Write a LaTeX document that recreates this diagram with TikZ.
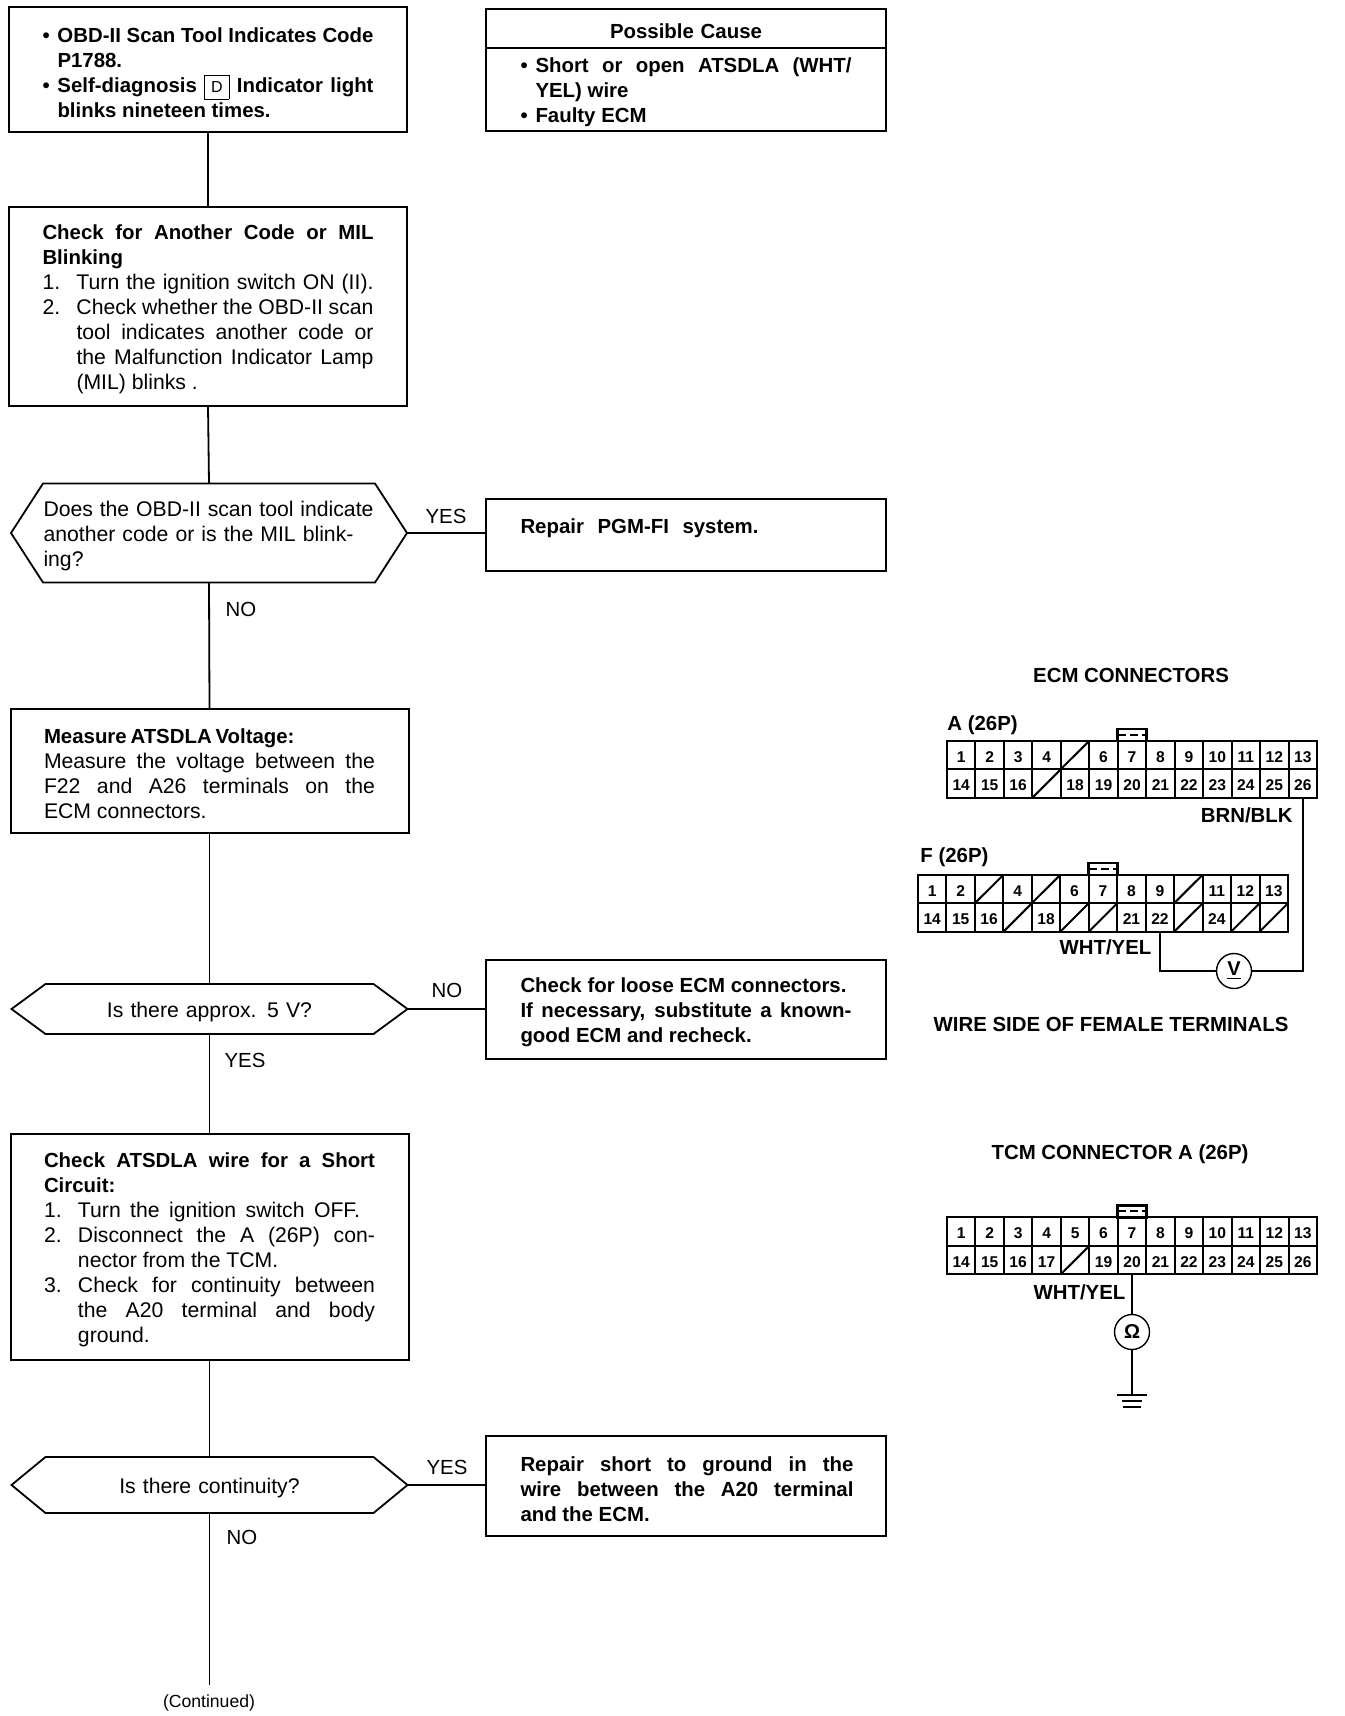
\documentclass[tikz,border=0pt]{standalone}
\usepackage{fontspec}
\setmainfont{Liberation Sans}
\usetikzlibrary{positioning}
\newcommand{\flowfont}{\fontsize{10.6}{12.5}\selectfont}
\newcommand{\flowbold}{\fontsize{10.2}{12.5}\selectfont\bfseries}
\newcommand{\fit}[2]{\makebox[#1pt][s]{#2}}
\newcommand{\numitem}[2]{\makebox[17pt][l]{#1}#2}
\newcommand{\bulitem}[1]{\makebox[7.5pt][l]{\textbullet}#1}
\newcommand{\hexoutline}[2]{%
	\draw[line width=0.9pt] (#1.west) -- ([xshift=#2]#1.north west) -- ([xshift=-#2]#1.north east) -- (#1.east) -- ([xshift=-#2]#1.south east) -- ([xshift=#2]#1.south west) -- cycle;
}
\newcommand{\pinrow}[4]{%
	\foreach \lbl [count=\i] in {#4} {
		\def\slashmark{/}
		\ifx\lbl\slashmark
			\node[pincell] (#1-#2-\i) at ({#3+(\i-0.5)*28.46},\pinY) {};
			\draw[line width=1pt] (#1-#2-\i.south west) -- (#1-#2-\i.north east);
		\else
			\node[pincell] (#1-#2-\i) at ({#3+(\i-0.5)*28.46},\pinY) {\raisebox{-3.6pt}[0pt][0pt]{\lbl}};
		\fi
	}
}
\tikzset{
	flowbox/.style={draw,line width=1pt,outer sep=0pt,inner sep=0pt,minimum width=199pt,text width=165.5pt,align=flush left,font=\flowfont,execute at begin node={\rule{0pt}{10.5pt}}},
	sidebox/.style={flowbox,minimum width=200pt,font=\flowbold},
	hexbox/.style={outer sep=0pt,inner sep=0pt,minimum width=198pt,text width=165.5pt,font=\flowfont,execute at begin node={\rule{0pt}{10.5pt}}},
	flowlabel/.style={font=\fontsize{10.2}{12}\selectfont,inner sep=0pt},
	title/.style={font=\fontsize{10.2}{12}\selectfont\bfseries,inner sep=0pt},
	pincell/.style={draw,line width=1pt,minimum width=14.23pt,minimum height=14.2pt,inner sep=0pt,outer sep=0pt,font=\fontsize{7.8}{8}\selectfont\bfseries},
	pinkey/.style={draw,line width=1.2pt,minimum width=14.5pt,minimum height=6pt,inner sep=0pt,outer sep=0pt},
	keymark/.style={line width=1pt,dash pattern=on 4pt off 2pt},
	meter/.style={draw,circle,line width=0.7pt,minimum size=17.5pt,inner sep=0pt,font=\fontsize{10}{11}\selectfont\bfseries},
	wire/.style={line width=0.9pt}
}
\begin{document}
\begin{tikzpicture}[x=0.5pt,y=-0.5pt]
	\useasboundingbox (0,0) rectangle (1344,1716);
	% flow column
	\node[flowbox,minimum height=62.5pt,font=\flowbold] (scan) at (208,70) {\bulitem{\fit{158}{OBD-II Scan Tool Indicates Code}}\\\hspace*{7.5pt}P1788.\\\bulitem{\fit{158}{Self-diagnosis \fbox{\fontsize{8}{8}\selectfont\mdseries D} Indicator light}}\\\hspace*{7.5pt}blinks nineteen times.};
	\node[flowbox,minimum height=99.5pt] (check) at (208,306.5) {{\flowbold\fit{165.5}{Check for Another Code or MIL}}\\{\flowbold Blinking}\\\numitem{1.}{\fit{148.5}{Turn the ignition switch ON (II).}}\\\numitem{2.}{\fit{148.5}{Check whether the OBD-II scan}}\\\hspace*{17pt}\fit{148.5}{tool indicates another code or}\\\hspace*{17pt}\fit{148.5}{the Malfunction Indicator Lamp}\\\hspace*{17pt}(MIL) blinks .};
	\node[hexbox,align=flush left,minimum height=49.5pt] (askcode) at (209,533) {\fit{165}{Does the OBD-II scan tool indicate}\\\fit{155}{another code or is the MIL blink-}\\ing?};
	\hexoutline{askcode}{16pt}
	\node[flowbox,minimum height=62pt] (measure) at (209.5,771) {{\flowbold\fit{119.5}{Measure ATSDLA Voltage:}}\\\fit{165.5}{Measure the voltage between the}\\\fit{165.5}{F22 and A26 terminals on the}\\ECM connectors.};
	\node[hexbox,align=center,minimum height=25pt] (askvolt) at (209.5,1009) {Is there approx. 5 V?};
	\hexoutline{askvolt}{17pt}
	\node[flowbox,minimum height=113pt] (short) at (209.5,1247) {{\flowbold\fit{165.5}{Check ATSDLA wire for a Short}}\\{\flowbold Circuit:}\\\numitem{1.}{\fit{141}{Turn the ignition switch OFF.}}\\\numitem{2.}{\fit{148.5}{Disconnect the A (26P) con-}}\\\hspace*{17pt}nector from the TCM.\\\numitem{3.}{\fit{148.5}{Check for continuity between}}\\\hspace*{17pt}\fit{148.5}{the A20 terminal and body}\\\hspace*{17pt}ground.};
	\node[hexbox,align=center,minimum height=28pt] (askcont) at (209.5,1485) {Is there continuity?};
	\hexoutline{askcont}{17pt}
	\coordinate (flowend) at (209.5,1685);
	\node[font=\fontsize{8.8}{10}\selectfont,inner sep=0pt] (continued) at (209,1703) {(Continued)};
	% side boxes
	\node[sidebox,align=center,minimum height=19.5pt] (causehead) at (686,28.5) {Possible Cause};
	\node[sidebox,minimum height=41.5pt,below=0pt of causehead] (causebody) {\bulitem{\fit{158}{Short or open ATSDLA (WHT/}}\\\hspace*{7.5pt}YEL) wire\\\bulitem{Faulty ECM}};
	\node[sidebox,minimum height=36pt] (repairpgm) at (686,535) {\fit{119}{Repair PGM-FI system.}\\\phantom{X}};
	\node[sidebox,minimum height=49.5pt] (loose) at (686,1009.5) {\fit{163}{Check for loose ECM connectors.}\\\fit{165.5}{If necessary, substitute a known-}\\good ECM and recheck.};
	\node[sidebox,minimum height=50pt] (repairgnd) at (686,1486) {\fit{166.5}{Repair short to ground in the}\\\fit{166.5}{wire between the A20 terminal}\\and the ECM.};
	% connectors of the flow
	\draw[line width=1.4pt] (scan.south) -- (check.north);
	\draw[wire] (check.south) -- (askcode.north);
	\draw[wire] (askcode.south) -- (measure.north);
	\draw[wire] (measure.south) -- (askvolt.north);
	\draw[wire] (askvolt.south) -- (short.north);
	\draw[wire] (short.south) -- (askcont.north);
	\draw[wire] (askcont.south) -- (flowend);
	\draw[wire] (askcode.east) -- (askcode.east -| repairpgm.west);
	\draw[wire] (askvolt.east) -- (askvolt.east -| loose.west);
	\draw[wire] (askcont.east) -- (askcont.east -| repairgnd.west);
	\node[flowlabel] (yesA) at (446,516) {YES};
	\node[flowlabel] (noA) at (241,609) {NO};
	\node[flowlabel] (noB) at (447,990) {NO};
	\node[flowlabel] (yesB) at (245,1060) {YES};
	\node[flowlabel] (yesC) at (447,1467) {YES};
	\node[flowlabel] (noC) at (242,1537) {NO};
	% ECM connectors
	\node[title] (ecmtitle) at (1131,675) {ECM CONNECTORS};
	\node[title,anchor=west] (ecmA) at (947,725) {A (26P)};
	\def\pinY{755}
	\pinrow{A}{1}{947}{1,2,3,4,/,6,7,8,9,10,11,12,13}
	\def\pinY{783.5}
	\pinrow{A}{2}{947}{14,15,16,/,18,19,20,21,22,23,24,25,26}
	\node[pinkey,above=0pt of A-1-7] (keyA) {};
	\draw[keymark] (keyA.west) -- (keyA.east);
	\node[title,anchor=east] (brnblk) at (1293,815) {BRN/BLK};
	\node[title,anchor=west] (ecmF) at (920,857) {F (26P)};
	\def\pinY{889}
	\pinrow{F}{1}{918}{1,2,/,4,/,6,7,8,9,/,11,12,13}
	\def\pinY{917.5}
	\pinrow{F}{2}{918}{14,15,16,/,18,/,/,21,22,/,24,/,/}
	\node[pinkey,above=0pt of F-1-7] (keyF) {};
	\draw[keymark] (keyF.west) -- (keyF.east);
	\node[title] (whtF) at (1105.5,947) {WHT/YEL};
	\node[meter] (vmeter) at (1234,971) {\underline{V}};
	\draw[line width=1pt] (A-2-13.south) |- (vmeter.east);
	\draw[line width=1pt] (F-2-9.south) |- (vmeter.west);
	\node[title] (wireside) at (1111,1024) {WIRE SIDE OF FEMALE TERMINALS};
	% TCM connector
	\node[title] (tcmtitle) at (1120,1154) {TCM CONNECTOR A (26P)};
	\def\pinY{1231.5}
	\pinrow{T}{1}{947}{1,2,3,4,5,6,7,8,9,10,11,12,13}
	\def\pinY{1260}
	\pinrow{T}{2}{947}{14,15,16,17,/,19,20,21,22,23,24,25,26}
	\node[pinkey,above=0pt of T-1-7] (keyT) {};
	\draw[keymark] (keyT.west) -- (keyT.east);
	\node[title] (whtT) at (1079.5,1292) {WHT/YEL};
	\node[meter] (ohm) at (1132,1332) {Ω};
	\coordinate (gnd) at (1132,1395);
	\draw[line width=0.8pt] (T-2-7.south) -- (ohm.north);
	\draw[line width=0.8pt] (ohm.south) -- (gnd);
	\draw[line width=1pt] ([xshift=-7.5pt]gnd) -- ([xshift=7.5pt]gnd);
	\draw[line width=1pt] ([xshift=-5pt,yshift=-3pt]gnd) -- ([xshift=5pt,yshift=-3pt]gnd);
	\draw[line width=1pt] ([xshift=-4.5pt,yshift=-6pt]gnd) -- ([xshift=4.5pt,yshift=-6pt]gnd);
\end{tikzpicture}
\end{document}
